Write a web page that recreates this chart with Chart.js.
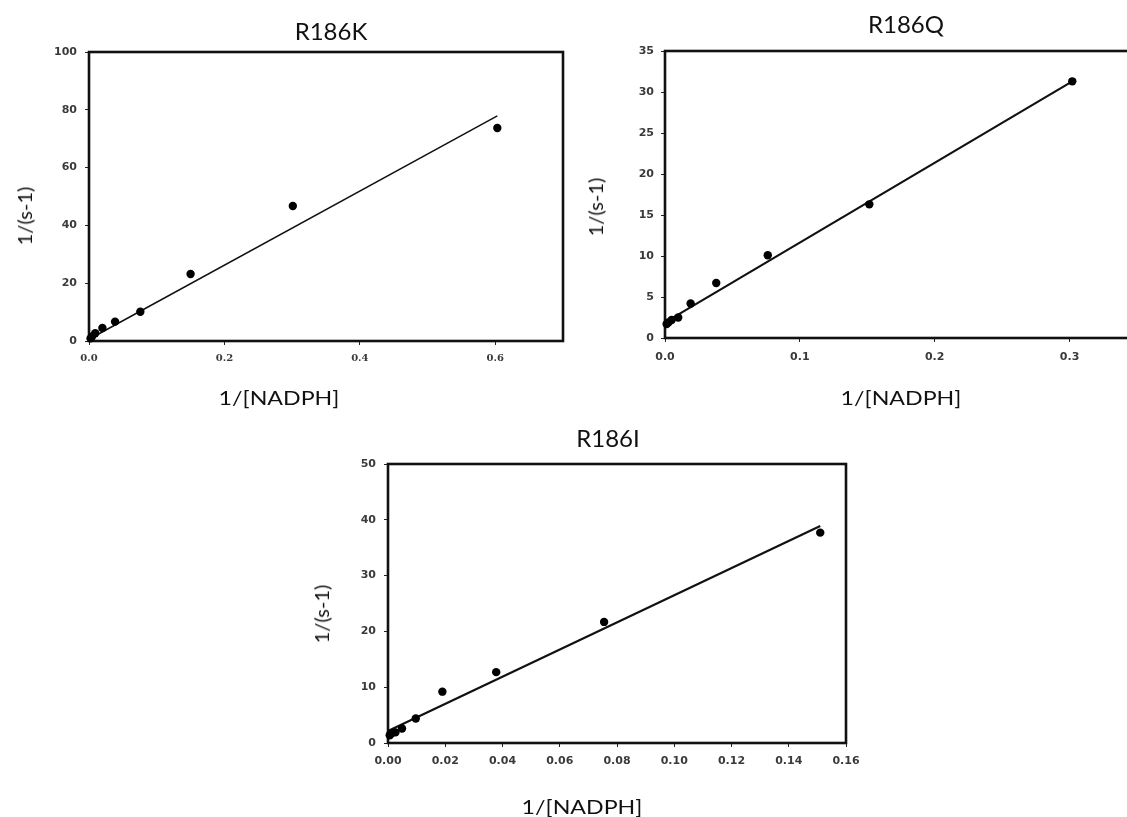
<!DOCTYPE html>
<html>
<head>
<meta charset="utf-8">
<title>Lineweaver-Burk plots</title>
<script src="https://cdn.jsdelivr.net/npm/chart.js@4.4.0/dist/chart.umd.min.js"></script>
<style>
  html, body { margin: 0; padding: 0; background: #fff; overflow: hidden; }
  body { width: 1127px; height: 817px; position: relative; }
  canvas { position: absolute; }
  .lbl {
    position: absolute;
    font-family: Lato, sans-serif;
    color: #111;
    line-height: 1;
    white-space: nowrap;
    transform: translate(-50%, -50%);
  }
  .head { font-size: 24px; }
  .xlab { font-size: 19px; transform: translate(-50%, -50%) scaleX(1.22); }
  .ylab { font-size: 20px; transform: translate(-50%, -50%) rotate(-90deg); }
</style>
</head>
<body>
<canvas id="chartK" width="662" height="400" style="left:0;top:0"></canvas>
<canvas id="chartQ" width="600" height="400" style="left:570px;top:0"></canvas>
<canvas id="chartI" width="600" height="420" style="left:290px;top:410px"></canvas>

<div class="lbl head" style="left:331px;top:31px">R186K</div>
<div class="lbl ylab" style="left:24px;top:216px">1/(s-1)</div>
<div class="lbl xlab" style="left:279px;top:397px">1/[NADPH]</div>

<div class="lbl head" style="left:906px;top:24px">R186Q</div>
<div class="lbl ylab" style="left:595px;top:207px">1/(s-1)</div>
<div class="lbl xlab" style="left:901px;top:397px">1/[NADPH]</div>

<div class="lbl head" style="left:608px;top:438px">R186I</div>
<div class="lbl ylab" style="left:321px;top:614px">1/(s-1)</div>
<div class="lbl xlab" style="left:582px;top:806px">1/[NADPH]</div>

<script>
// R186K
const xK = [0.603, 0.301, 0.150, 0.0758, 0.0385, 0.0198, 0.0092, 0.0046, 0.0023];
const yK = [73.7, 46.7, 23.2, 10.1, 6.7, 4.5, 2.7, 1.6, 0.9];
const fitXK = [0, 0.603];
const fitYK = [0.6, 77.9];

// R186Q
const xQ = [0.302, 0.1515, 0.0762, 0.038, 0.019, 0.0098, 0.0049, 0.0025, 0.0012];
const yQ = [31.3, 16.3, 10.1, 6.7, 4.2, 2.5, 2.2, 1.9, 1.7];
const fitXQ = [0, 0.302];
const fitYQ = [1.9, 31.3];

// R186I
const xI = [0.151, 0.0755, 0.0378, 0.019, 0.0097, 0.0049, 0.0026, 0.0012, 0.0006];
const yI = [37.7, 21.7, 12.7, 9.2, 4.4, 2.6, 1.9, 1.7, 1.4];
const fitXI = [0, 0.151];
const fitYI = [2.15, 38.9];

// axis ranges: [min, max, step, decimals]
const xRangeK = [0, 0.7, 0.2, 1];
const yRangeK = [0, 100, 20, 0];
const xRangeQ = [0, 0.35, 0.1, 1];
const yRangeQ = [0, 35, 5, 0];
const xRangeI = [0, 0.16, 0.02, 2];
const yRangeI = [0, 50, 10, 0];

const toPoints = (xs, ys) => xs.map((x, i) => ({x: x, y: ys[i]}));

// box around the plot area
const frame = {
  id: 'frame',
  beforeDatasetsDraw(chart) {
    const {ctx, chartArea: a} = chart;
    ctx.save();
    ctx.lineWidth = 2.6;
    ctx.strokeStyle = '#111';
    ctx.strokeRect(a.left, a.top, a.right - a.left, a.bottom - a.top);
    ctx.restore();
  }
};

function axis(range, tickFont, tickPad, fit) {
  return {
    type: 'linear',
    min: range[0],
    max: range[1],
    border: {display: false},
    grid: {drawOnChartArea: false, drawTicks: true, tickLength: 4, color: '#222', lineWidth: 1},
    ticks: {
      stepSize: range[2],
      includeBounds: false,
      padding: tickPad,
      color: '#3a3a3a',
      font: tickFont,
      callback: v => v.toFixed(range[3])
    },
    afterFit: fit
  };
}

// box: plot area in canvas pixels
function lbChart(id, xs, ys, fx, fy, xr, yr, box, style) {
  const canvas = document.getElementById(id);
  const W = canvas.width, H = canvas.height;
  return new Chart(canvas, {
    type: 'scatter',
    data: {
      datasets: [
        {
          data: toPoints(xs, ys),
          pointRadius: 4.2,
          pointBackgroundColor: '#000',
          pointBorderWidth: 0,
          clip: false
        },
        {
          data: toPoints(fx, fy),
          showLine: true,
          pointRadius: 0,
          borderColor: '#111',
          borderWidth: style.lineWidth,
          clip: false
        }
      ]
    },
    options: {
      responsive: false,
      animation: false,
      layout: {padding: {left: 0, top: box.top, right: W - box.right, bottom: 0}},
      plugins: {
        legend: {display: false},
        tooltip: {enabled: false}
      },
      scales: {
        x: axis(xr, style.xFont, style.xPad, s => { s.height = H - box.bottom; }),
        y: axis(yr, style.yFont, style.yPad, s => { s.width = box.left; })
      }
    },
    plugins: [frame]
  });
}

const sansTicks = {family: 'DejaVu Sans', size: 11, weight: 'bold'};
const serifTicks = {family: 'DejaVu Serif', size: 10, weight: 'bold'};

lbChart('chartK', xK, yK, fitXK, fitYK, xRangeK, yRangeK,
  {left: 89, right: 563, top: 52, bottom: 341},
  {lineWidth: 1.5, xFont: serifTicks, yFont: sansTicks, xPad: 7, yPad: 8});

lbChart('chartQ', xQ, yQ, fitXQ, fitYQ, xRangeQ, yRangeQ,
  {left: 95, right: 567, top: 51, bottom: 338},
  {lineWidth: 2.2, xFont: sansTicks, yFont: sansTicks, xPad: 9, yPad: 7});

lbChart('chartI', xI, yI, fitXI, fitYI, xRangeI, yRangeI,
  {left: 98, right: 556, top: 54, bottom: 333},
  {lineWidth: 2.2, xFont: sansTicks, yFont: sansTicks, xPad: 8, yPad: 8});
</script>
</body>
</html>
